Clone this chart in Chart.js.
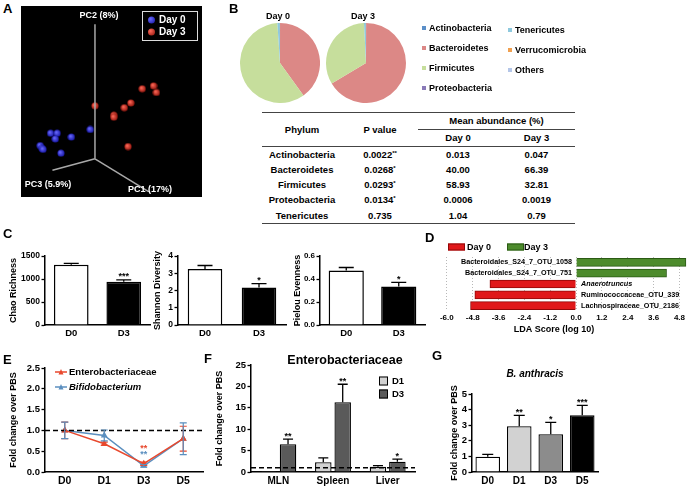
<!DOCTYPE html>
<html>
<head>
<meta charset="utf-8">
<script src="https://cdn.jsdelivr.net/npm/chart.js@4.4.0/dist/chart.umd.min.js"></script>
<style>
  body { margin: 0; width: 688px; height: 490px; position: relative; overflow: hidden; background: #fff;
         font-family: "Liberation Sans", Arial, sans-serif; font-weight: bold; color: #000; }
  .t { position: absolute; white-space: nowrap; line-height: 1; }
  canvas { position: absolute; }
  #phylumTable { position: absolute; left: 262px; top: 112px; width: 313px; border-collapse: collapse;
                 table-layout: fixed; font-size: 9.5px; text-align: center; }
  #phylumTable td { padding: 0; height: 15.2px; line-height: 1; }
  #phylumTable sup { font-size: 6px; vertical-align: 3px; }
</style>
</head>
<body>
<script>
// ---- A: PCoA (projected 3D coordinates, origin = axes crossing)
var pcaDay0 = [[-0.47, 0.27], [-0.40, 0.27], [-0.42, 0.21], [-0.25, 0.23], [-0.05, 0.31],
               [-0.58, 0.14], [-0.56, 0.11], [-0.55, 0.10], [-0.36, 0.06]];
var pcaDay3 = [[0.0, 0.56], [0.20, 0.46], [0.20, 0.44], [0.31, 0.54], [0.38, 0.59],
               [0.50, 0.74], [0.62, 0.77], [0.65, 0.70], [0.35, 0.13]];
var pc1Axis = [[0, 0], [0.64, -0.39]];
var pc2Axis = [[0, 0], [0, 1.42]];
var pc3Axis = [[0, 0], [-0.45, -0.12]];

// ---- B: phylum composition
var phyla = ["Actinobacteria", "Bacteroidetes", "Firmicutes", "Proteobacteria", "Tenericutes", "Verrucomicrobia", "Others"];
var pieDay0 = [0.013, 40.00, 58.93, 0.0006, 1.04, 0.005, 0.01];
var pieDay3 = [0.047, 66.39, 32.81, 0.0019, 0.79, 0.005, 0.01];
var tablePhyla = ["Actinobacteria", "Bacteroidetes", "Firmicutes", "Proteobacteria", "Tenericutes"];
var tablePValues = ["0.0022", "0.0268", "0.0293", "0.0134", "0.735"];
var tablePStars = ["**", "*", "*", "*", ""];
var tableDay0 = ["0.013", "40.00", "58.93", "0.0006", "1.04"];
var tableDay3 = ["0.047", "66.39", "32.81", "0.0019", "0.79"];

// ---- C: alpha diversity
var diversityGroups = ["D0", "D3"];
var chaoMean = [1310, 940], chaoErr = [30, 40], chaoStars = ["", "***"];
var shannonMean = [3.25, 2.17], shannonErr = [0.2, 0.23], shannonStars = ["", "*"];
var pielouMean = [0.475, 0.335], pielouErr = [0.025, 0.035], pielouStars = ["", "*"];

// ---- D: LEfSe
var ldaTaxa = ["Bacteroidales_S24_7_OTU_1058", "Bacteroidales_S24_7_OTU_751", "Anaerotruncus",
               "Ruminococcaceae_OTU_339", "Lachnospiraceae_OTU_2186"];
var ldaItalic = [false, false, true, false, false];
var ldaScores = [5.1, 4.2, -4.0, -4.7, -4.9];
var ldaTicks = [-6.0, -4.8, -3.6, -2.4, -1.2, 0.0, 1.2, 2.4, 3.6, 4.8];

// ---- E: qPCR time course
var timeDays = ["D0", "D1", "D3", "D5"];
var enteroFold = [1.0, 0.68, 0.2, 0.8], enteroErr = [0.2, 0.04, 0.04, 0.3], enteroStars = ["", "", "**", ""];
var bifidoFold = [1.0, 0.88, 0.15, 0.8], bifidoErr = [0.2, 0.13, 0.03, 0.38], bifidoStars = ["", "", "**", ""];
var pbsBaseline = 1;

// ---- F: Enterobacteriaceae in organs
var organs = ["MLN", "Spleen", "Liver"];
var organD1 = [0.2, 2.3, 1.2], organD1Err = [0, 1.0, 0.3], organD1Stars = ["", "", ""];
var organD3 = [6.5, 16.3, 2.4], organD3Err = [1.2, 4.2, 0.6], organD3Stars = ["**", "**", "*"];

// ---- G: B. anthracis
var anthracisDays = ["D0", "D1", "D3", "D5"];
var anthracisFold = [0.98, 2.93, 2.42, 3.63], anthracisErr = [0.15, 0.7, 0.76, 0.64];
var anthracisStars = ["", "**", "*", "***"];

var FONT = '"Liberation Sans", Arial, sans-serif';
var phylaColors = ["#5b8fc8", "#dc8886", "#c6de9c", "#8a7ab8", "#8ec9de", "#f0a050", "#b4c6e8"];

document.addEventListener("DOMContentLoaded", function () {
  Chart.defaults.font.family = FONT;
  Chart.defaults.font.weight = "bold";
  Chart.defaults.font.size = 9.5;
  Chart.defaults.color = "#000";
  Chart.defaults.animation = false;
  Chart.defaults.responsive = false;
  Chart.defaults.plugins.legend.display = false;
  Chart.defaults.plugins.tooltip.enabled = false;

  function makeCanvas(x, y, w, h, bg) {
    var c = document.createElement("canvas");
    c.width = w;
    c.height = h;
    c.style.left = x + "px";
    c.style.top = y + "px";
    if (bg) c.style.background = bg;
    document.body.appendChild(c);
    return c.getContext("2d");
  }

  // text centred vertically on y; align = left | center | right
  function addText(html, x, y, size, align, extra) {
    var d = document.createElement("div");
    d.className = "t";
    d.innerHTML = html;
    var tx = align === "center" ? "-50%" : align === "right" ? "-100%" : "0";
    d.style.cssText = "left:" + x + "px;top:" + y + "px;font-size:" + size + "px;transform:translate(" + tx + ",-50%);" + (extra || "");
    document.body.appendChild(d);
    return d;
  }

  // error bars + significance stars
  var errorBarPlugin = {
    id: "errbars",
    afterDatasetsDraw: function (chart, args, opts) {
      var ctx = chart.ctx, ys = chart.scales.y;
      chart.data.datasets.forEach(function (ds, di) {
        if (!ds.errors) return;
        chart.getDatasetMeta(di).data.forEach(function (el, i) {
          var v = ds.data[i], e = ds.errors[i], x = el.x;
          var top = ys.getPixelForValue(v + e);
          var bot = opts.both ? ys.getPixelForValue(v - e) : el.y;
          ctx.save();
          ctx.strokeStyle = ds.errorColor || "#000";
          ctx.lineWidth = opts.width || 1.3;
          if (e > 0) {
            ctx.beginPath();
            ctx.moveTo(x, bot);
            ctx.lineTo(x, top);
            ctx.moveTo(x - opts.cap / 2, top);
            ctx.lineTo(x + opts.cap / 2, top);
            if (opts.both) {
              ctx.moveTo(x - opts.cap / 2, bot);
              ctx.lineTo(x + opts.cap / 2, bot);
            }
            ctx.stroke();
          }
          if (ds.stars && ds.stars[i]) {
            ctx.fillStyle = ds.errorColor || "#000";
            ctx.font = "bold 9px " + FONT;
            ctx.textAlign = "center";
            ctx.textBaseline = "alphabetic";
            var sy = ds.starOffset ? el.y - ds.starOffset : top - 0.5;
            ctx.fillText(ds.stars[i], x, sy);
          }
          ctx.restore();
        });
      });
    }
  };

  // dashed reference line (fold change = 1)
  var refLinePlugin = {
    id: "refline",
    afterDatasetsDraw: function (chart, args, opts) {
      var ctx = chart.ctx, a = chart.chartArea;
      var y = chart.scales.y.getPixelForValue(opts.value);
      ctx.save();
      ctx.setLineDash([5, 3]);
      ctx.lineWidth = 1.5;
      ctx.strokeStyle = "#000";
      ctx.beginPath();
      ctx.moveTo(a.left, y);
      ctx.lineTo(a.right, y);
      ctx.stroke();
      ctx.restore();
    }
  };

  function prismY(min, max, step, width, title, decimals, tickSize) {
    return {
      min: min,
      max: max,
      ticks: { stepSize: step, padding: 1.5, font: { size: tickSize || 9.5 },
               callback: function (v) { return decimals ? v.toFixed(decimals) : v; } },
      grid: { drawOnChartArea: false, tickLength: 3.5, tickColor: "#000", tickWidth: 1.3 },
      border: { color: "#000", width: 1.5 },
      title: { display: true, text: title, padding: 0, font: { size: 9 } },
      afterFit: function (s) { s.width = width; }
    };
  }

  function prismX(height, size) {
    return {
      offset: true,
      ticks: { padding: 3, font: { size: size || 10 } },
      grid: { drawOnChartArea: false, drawTicks: false },
      border: { color: "#000", width: 1.5 },
      afterFit: function (s) { s.height = height; }
    };
  }

  // ================= A =================
  function pts(list) { return list.map(function (p) { return { x: p[0], y: p[1] }; }); }
  // small shaded ball used as point style
  function sphere(light, dark) {
    var c = document.createElement("canvas");
    c.width = 8;
    c.height = 8;
    var g2 = c.getContext("2d");
    var g = g2.createRadialGradient(3, 3, 0.3, 4, 4, 4);
    g.addColorStop(0, light);
    g.addColorStop(1, dark);
    g2.fillStyle = g;
    g2.beginPath();
    g2.arc(4, 4, 3.6, 0, Math.PI * 2);
    g2.fill();
    return c;
  }
  var axisLine = { showLine: true, borderColor: "#a8a8a8", borderWidth: 1.5, pointRadius: 0 };
  new Chart(makeCanvas(21, 6, 181, 191, "#000"), {
    type: "scatter",
    data: {
      datasets: [
        Object.assign({ data: pts(pc1Axis) }, axisLine),
        Object.assign({ data: pts(pc2Axis) }, axisLine),
        Object.assign({ data: pts(pc3Axis) }, axisLine),
        { data: pts(pcaDay0), pointStyle: sphere("#6a6aff", "#10109a"), pointRadius: 4 },
        { data: pts(pcaDay3), pointStyle: sphere("#ff6a5a", "#8a1008"), pointRadius: 4 }
      ]
    },
    options: {
      scales: {
        x: { display: false, min: -0.73, max: 1.08 },
        y: { display: false, min: -0.35, max: 1.56 }
      }
    }
  });
  addText("PC2 (8%)", 99, 15, 9, "center", "color:#fff");
  addText("PC3 (5.9%)", 48, 184, 9, "center", "color:#fff");
  addText("PC1 (17%)", 150, 189, 9, "center", "color:#fff");
  var lg = document.createElement("div");
  lg.style.cssText = "position:absolute;left:142px;top:11px;width:54px;height:28px;border:1px solid #ddd;background:#000";
  document.body.appendChild(lg);
  addText("", 148, 20, 1, "left", "width:7px;height:7px;border-radius:50%;background:radial-gradient(circle at 35% 35%,#6a6aff,#10109a)");
  addText("", 148, 32, 1, "left", "width:7px;height:7px;border-radius:50%;background:radial-gradient(circle at 35% 35%,#ff6a5a,#8a1008)");
  addText("Day 0", 159, 20, 10, "left", "color:#fff");
  addText("Day 3", 159, 32, 10, "left", "color:#fff");

  // ================= B =================
  function pie(x, values) {
    new Chart(makeCanvas(x, 23, 80, 80), {
      type: "pie",
      data: { labels: phyla, datasets: [{ data: values, backgroundColor: phylaColors, borderWidth: 0, hoverOffset: 0 }] },
      options: { layout: { padding: 0 } }
    });
  }
  pie(240, pieDay0);
  pie(326, pieDay3);
  addText("Day 0", 278, 16, 9, "center");
  addText("Day 3", 363, 16, 9, "center");

  var legendCols = [[422, [28, 48, 68, 88]], [508, [30, 50, 70]]];
  var li = 0;
  legendCols.forEach(function (col) {
    col[1].forEach(function (y) {
      addText("", col[0], y, 1, "left", "width:4px;height:4px;background:" + phylaColors[li]);
      addText(phyla[li], col[0] + 7, y, 9, "left");
      li++;
    });
  });

  // table
  var tbl = document.createElement("table");
  tbl.id = "phylumTable";
  var html = '<colgroup><col style="width:80px"><col style="width:76px"><col style="width:80px"><col style="width:77px"></colgroup>';
  html += '<tr style="border-top:1px solid #444"><td rowspan="2" style="height:32px">Phylum</td><td rowspan="2">P value</td>' +
          '<td colspan="2" style="height:16px;border-bottom:1px solid #444">Mean abundance (%)</td></tr>';
  html += '<tr style="border-bottom:1px solid #444"><td style="height:16px">Day 0</td><td>Day 3</td></tr>';
  tablePhyla.forEach(function (p, i) {
    var last = i === tablePhyla.length - 1 ? ' style="border-bottom:1px solid #444"' : "";
    html += "<tr" + last + "><td>" + p + "</td><td>" + tablePValues[i] +
            (tablePStars[i] ? "<sup>" + tablePStars[i] + "</sup>" : "") + "</td><td>" + tableDay0[i] + "</td><td>" + tableDay3[i] + "</td></tr>";
  });
  tbl.innerHTML = html;
  document.body.appendChild(tbl);

  // ================= C =================
  function diversity(x, w, pr, mean, err, stars, yAxis, barPct) {
    new Chart(makeCanvas(x, 240, w, 102), {
      type: "bar",
      data: {
        labels: diversityGroups,
        datasets: [{
          data: mean, errors: err, stars: stars,
          backgroundColor: ["#fff", "#000"], borderColor: "#000", borderWidth: 1.5,
          barPercentage: barPct, categoryPercentage: 1
        }]
      },
      options: {
        layout: { padding: { top: 16, right: pr, left: 0, bottom: 0 } },
        plugins: { errbars: { cap: 15 } },
        scales: { x: prismX(17, 9.5), y: yAxis }
      },
      plugins: [errorBarPlugin]
    });
  }
  diversity(8, 150, 8, chaoMean, chaoErr, chaoStars, prismY(0, 1500, 500, 37, "Chao Richness", 0, 8.5), 0.66);
  diversity(152, 140, 6, shannonMean, shannonErr, shannonStars, prismY(0, 4, 1, 26, "Shannon Diversity", 0, 8.5), 0.64);
  diversity(292, 138, 5, pielouMean, pielouErr, pielouStars, prismY(0, 0.6, 0.2, 28, "Pielou Evenness", 1, 8), 0.67);

  // ================= D =================
  var ldaLabelPlugin = {
    id: "ldalabels",
    afterDatasetsDraw: function (chart) {
      var ctx = chart.ctx, x0 = chart.scales.x.getPixelForValue(0);
      ctx.save();
      ctx.fillStyle = "#000";
      ctx.textBaseline = "middle";
      chart.getDatasetMeta(0).data.forEach(function (bar, i) {
        var pos = ldaScores[i] >= 0;
        ctx.font = (ldaItalic[i] ? "italic " : "") + "bold 7.2px " + FONT;
        ctx.textAlign = pos ? "right" : "left";
        ctx.fillText(ldaTaxa[i], pos ? x0 - 4 : x0 + 5, bar.y);
      });
      ctx.restore();
    }
  };
  new Chart(makeCanvas(415, 250, 273, 90), {
    type: "bar",
    data: {
      labels: ldaTaxa,
      datasets: [{
        data: ldaScores,
        backgroundColor: function (c) { return c.raw >= 0 ? "#4d8b2c" : "#e0181a"; },
        borderColor: function (c) { return c.raw >= 0 ? "#2b5a14" : "#900808"; },
        borderWidth: 1,
        barThickness: 8
      }]
    },
    options: {
      indexAxis: "y",
      layout: { padding: { left: 6, right: 1, top: 7, bottom: 0 } },
      scales: {
        x: {
          min: -7.2, max: 5.15,
          afterBuildTicks: function (s) { s.ticks = ldaTicks.map(function (v) { return { value: v }; }); },
          ticks: { font: { size: 8 }, padding: 2, callback: function (v) { return v.toFixed(1); } },
          grid: { color: "#b8b8b8", drawTicks: false },
          border: { display: false, dash: [1, 2] },
          title: { display: true, text: "LDA Score (log 10)", font: { size: 9 }, padding: { top: 2, bottom: 5 } },
          afterFit: function (s) { s.height = 29; }
        },
        y: { display: false }
      }
    },
    plugins: [ldaLabelPlugin]
  });
  addText("", 448, 246.5, 1, "left", "width:15px;height:5px;background:#e0181a;border:0.5px solid #900808");
  addText("Day 0", 467, 246.5, 9, "left");
  addText("", 507, 246.5, 1, "left", "width:15px;height:5px;background:#4d8b2c;border:0.5px solid #2b5a14");
  addText("Day 3", 524, 246.5, 9, "left");

  // ================= E =================
  var enteroColor = "#e8492e", bifidoColor = "#5b8fbf";
  new Chart(makeCanvas(8, 360, 202, 130), {
    type: "line",
    data: {
      labels: timeDays,
      datasets: [
        { data: enteroFold, errors: enteroErr, stars: enteroStars, starOffset: 13, errorColor: enteroColor,
          borderColor: enteroColor, backgroundColor: enteroColor, borderWidth: 1.5, pointStyle: "triangle", pointRadius: 2.5 },
        { data: bifidoFold, errors: bifidoErr, stars: bifidoStars, starOffset: 9, errorColor: bifidoColor,
          borderColor: bifidoColor, backgroundColor: bifidoColor, borderWidth: 1.5, pointStyle: "triangle", pointRadius: 2.5 }
      ]
    },
    options: {
      layout: { padding: { top: 8, right: 7, left: 0, bottom: 0 } },
      plugins: { errbars: { cap: 7, both: true, width: 1.2 }, refline: { value: pbsBaseline } },
      scales: { x: prismX(18, 10.5), y: prismY(0, 2.5, 0.5, 37, "Fold change over PBS", 1) }
    },
    plugins: [refLinePlugin, errorBarPlugin]
  });
  function lineKey(y, color) {
    addText('<svg width="12" height="7"><line x1="0" y1="3.5" x2="12" y2="3.5" stroke="' + color + '" stroke-width="1.5"/>' +
            '<polygon points="6,0.5 8.5,6 3.5,6" fill="' + color + '"/></svg>', 55, y, 7, "left", "line-height:0");
  }
  lineKey(372, enteroColor);
  lineKey(387, bifidoColor);
  addText("Enterobacteriaceae", 69, 372, 9.5, "left");
  addText("Bifidobacterium", 69, 387, 9.5, "left", "font-style:italic");

  // ================= F =================
  new Chart(makeCanvas(214, 355, 206, 135), {
    type: "bar",
    data: {
      labels: organs,
      datasets: [
        { data: organD1, errors: organD1Err, stars: organD1Stars, backgroundColor: "#d2d2d2", borderColor: "#000",
          borderWidth: 1.3, categoryPercentage: 0.71, barPercentage: 0.85 },
        { data: organD3, errors: organD3Err, stars: organD3Stars, backgroundColor: "#5a5a5a", borderColor: "#000",
          borderWidth: 1.3, categoryPercentage: 0.71, barPercentage: 0.85 }
      ]
    },
    options: {
      layout: { padding: { top: 10, right: 5, left: 0, bottom: 0 } },
      plugins: { errbars: { cap: 10 }, refline: { value: pbsBaseline } },
      scales: { x: prismX(18, 10), y: prismY(0, 25, 5, 37, "Fold change over PBS") }
    },
    plugins: [refLinePlugin, errorBarPlugin]
  });
  addText("Enterobacteriaceae", 345, 360, 12.5, "center");
  addText("", 379, 380.5, 1, "left", "width:7px;height:7px;background:#d2d2d2;border:1px solid #000");
  addText("D1", 392, 380.5, 9.5, "left");
  addText("", 379, 394, 1, "left", "width:7px;height:7px;background:#5a5a5a;border:1px solid #000");
  addText("D3", 392, 394, 9.5, "left");

  // ================= G =================
  new Chart(makeCanvas(449, 385, 155, 105), {
    type: "bar",
    data: {
      labels: anthracisDays,
      datasets: [{
        data: anthracisFold, errors: anthracisErr, stars: anthracisStars,
        backgroundColor: ["#fff", "#d2d2d2", "#8c8c8c", "#000"], borderColor: "#000", borderWidth: 1.3,
        categoryPercentage: 1, barPercentage: 0.78
      }]
    },
    options: {
      layout: { padding: { top: 9, right: 6, left: 0, bottom: 0 } },
      plugins: { errbars: { cap: 11 } },
      scales: { x: prismX(18, 10), y: prismY(0, 5, 1, 23, "Fold change over PBS") }
    },
    plugins: [errorBarPlugin]
  });
  addText("<i>B. anthracis</i>", 535, 374, 10, "center");

  // panel letters
  [["A", 3, 8], ["B", 229, 8], ["C", 3, 233], ["D", 425, 237], ["E", 3, 359], ["F", 204, 358], ["G", 432, 355]].forEach(function (p) {
    addText(p[0], p[1], p[2], 13, "left");
  });
});
</script>
</body>
</html>
